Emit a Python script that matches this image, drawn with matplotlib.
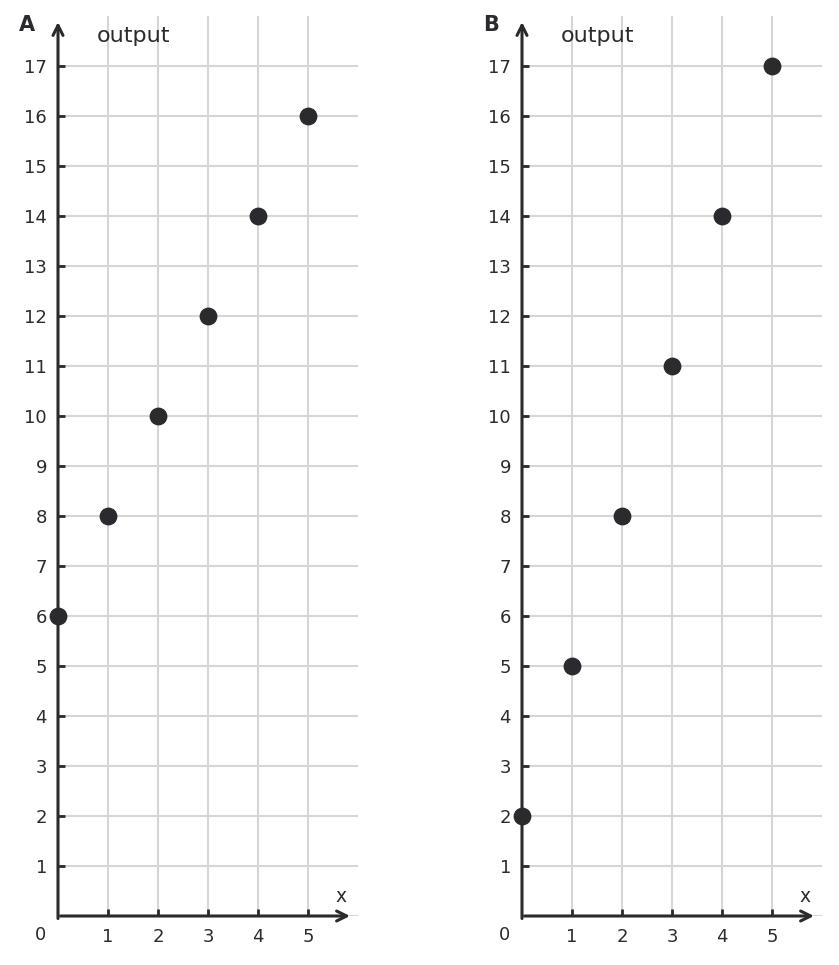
import matplotlib.pyplot as plt

x_values = [0, 1, 2, 3, 4, 5]
output_a = [6, 8, 10, 12, 14, 16]
output_b = [2, 5, 8, 11, 14, 17]
panel_names = ['A', 'B']

dark = '#2b2b2f'
grid_gray = '#d6d6d6'

fig = plt.figure(figsize=(8.39, 9.65), dpi=100)
W, H = 839.0, 965.0


def draw_panel(left_px, ys, name):
    ax = fig.add_axes([left_px / W, (H - 916) / H, 300 / W, 900 / H])
    ax.set_xlim(0, 6)
    ax.set_ylim(0, 18)
    for s in ax.spines.values():
        s.set_visible(False)

    ax.set_xticks(range(1, 6))
    ax.set_yticks(range(1, 18))
    ax.grid(True, color=grid_gray, linewidth=1.5, zorder=0)
    ax.axhline(0, color=grid_gray, linewidth=1.5, zorder=0)
    ax.tick_params(direction='in', length=5, width=2, color=dark,
                   labelsize=13, labelcolor=dark)
    ax.tick_params(axis='x', pad=9)
    ax.tick_params(axis='y', pad=8)

    # axes with arrow heads
    ax.annotate('', xy=(0, 17.88), xytext=(0, -0.05),
                arrowprops=dict(arrowstyle='->', color=dark, lw=2.2,
                                mutation_scale=18, shrinkA=0, shrinkB=0),
                annotation_clip=False)
    ax.annotate('', xy=(5.84, 0), xytext=(0.05, 0),
                arrowprops=dict(arrowstyle='->', color=dark, lw=2.2,
                                mutation_scale=18, shrinkA=0, shrinkB=0),
                annotation_clip=False)

    ax.scatter(x_values, ys, s=140, color=dark, zorder=5, clip_on=False)

    ax.text(-0.36, -0.38, '0', fontsize=13, color=dark, ha='center', va='center')
    ax.text(5.67, 0.38, 'x', fontsize=13.5, color=dark, ha='center', va='center')
    ax.text(0.78, 17.6, 'output', fontsize=16, color=dark, ha='left', va='center')
    ax.text(-0.62, 17.82, name, fontsize=15, fontweight='bold', color=dark,
            ha='center', va='center')
    return ax


draw_panel(58, output_a, panel_names[0])
draw_panel(522, output_b, panel_names[1])

fig.savefig('out.png', dpi=100)
